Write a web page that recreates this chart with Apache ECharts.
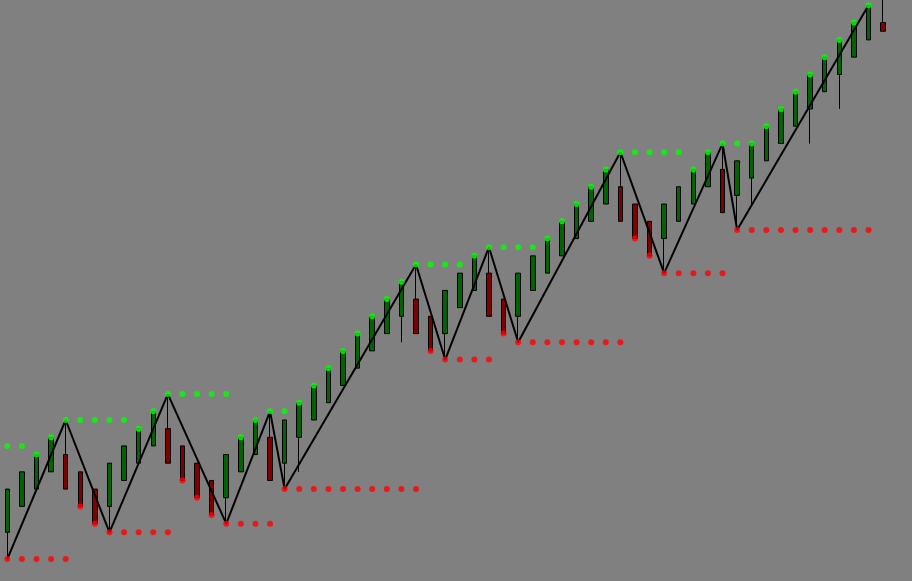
<!DOCTYPE html>
<html>
<head>
<meta charset="utf-8">
<script src="https://cdn.jsdelivr.net/npm/echarts@6/dist/echarts.min.js"></script>
<style>
html,body{margin:0;padding:0;background:#808080;}
#chart{width:912px;height:581px;}
</style>
</head>
<body>
<div id="chart"></div>
<script>
// Bar labels
var categories = ['1','2','3','4','5','6','7','8','9','10','11','12','13','14','15','16','17','18','19','20',
  '21','22','23','24','25','26','27','28','29','30','31','32','33','34','35','36','37','38','39','40',
  '41','42','43','44','45','46','47','48','49','50','51','52','53','54','55','56','57','58','59','60','61'];

// OHLC values (price units)
var opens  = [100,103,105,107,109,107,105,103,106,108,110,112,110,108,106,104,107,109,111,108,
              111,113,115,117,119,121,123,125,127,125,123,126,128,130,127,125,128,130,132,134,
              136,138,140,138,136,134,136,138,140,142,139,141,143,145,147,149,151,153,155,157,159];
var closes = [105,107,109,111,105,103,101,108,110,112,114,108,106,104,102,109,111,113,106,113,
              115,117,119,121,123,125,127,129,123,121,128,130,132,125,123,130,132,134,136,138,
              140,142,136,134,132,138,140,142,144,137,143,145,147,149,151,153,155,157,159,161,158];
var lows   = [96.9,103,105,107,105,103,101,100,106,108,110,108,106,104,102,101,107,109,106,105,
              107,113,115,117,119,121,123,122,123,121,120,126,128,125,123,122,128,130,132,134,
              136,138,136,134,132,130,136,138,140,137,135,138,143,145,147,145,151,149,155,157,158];
var highs  = [105,107,109,111,113,107,105,108,110,112,114,116,110,108,106,109,111,113,114,113,
              115,117,119,121,123,125,127,129,131,125,128,130,132,133,127,130,132,134,136,138,
              140,142,144,138,136,138,140,142,144,145,143,145,147,149,151,153,155,157,159,161,164];

// Upper (green) and lower (red) dot levels per bar
var upperDots = [110,110,109,111,113,113,113,113,113,112,114,116,116,116,116,116,111,113,114,114,
                 115,117,119,121,123,125,127,129,131,131,131,131,132,133,133,133,133,134,136,138,
                 140,142,144,144,144,144,144,142,144,145,145,145,147,149,151,153,155,157,159,161,null];
var lowerDots = [96.9,96.9,96.9,96.9,96.9,103,101,100,100,100,100,100,106,104,102,101,101,101,101,105,
                 105,105,105,105,105,105,105,105,105,121,120,120,120,120,123,122,122,122,122,122,
                 122,122,122,134,132,130,130,130,130,130,135,135,135,135,135,135,135,135,135,135,null];

// ZigZag pivots: bar index and price
var zigIndex = [0,4,7,11,15,18,19,28,30,33,35,42,45,49,50,59];
var zigPrice = [96.9,113,100,116,101,114,105,131,120,133,122,144,130,145,135,161];

var ohlc = categories.map(function(c,i){ return [opens[i], closes[i], lows[i], highs[i]]; });
var zig = categories.map(function(){ return null; });
zigIndex.forEach(function(idx,j){ zig[idx] = zigPrice[j]; });

var chart = echarts.init(document.getElementById('chart'), null, {renderer:'canvas'});
chart.setOption({
  animation: false,
  backgroundColor: '#808080',
  grid: {left: -2, top: 0, width: 892.4, height: 581, containLabel: false},
  xAxis: {type: 'category', data: categories, show: false, boundaryGap: true},
  yAxis: {type: 'value', min: 94.363, max: 161.616, show: false, splitLine: {show: false}, scale: true},
  series: [
    {
      type: 'candlestick',
      data: ohlc,
      barWidth: 5,
      z: 2,
      itemStyle: {
        color: '#006400',
        color0: '#800000',
        borderColor: '#000000',
        borderColor0: '#000000',
        borderWidth: 1
      }
    },
    {
      type: 'line',
      data: zig,
      connectNulls: true,
      showSymbol: false,
      symbol: 'none',
      z: 3,
      lineStyle: {color: '#000000', width: 2}
    },
    {
      type: 'scatter',
      data: upperDots,
      symbol: 'circle',
      symbolSize: 6,
      z: 4,
      itemStyle: {color: '#00ff00'}
    },
    {
      type: 'scatter',
      data: lowerDots,
      symbol: 'circle',
      symbolSize: 6,
      z: 4,
      itemStyle: {color: '#ff0000'}
    }
  ]
});
</script>
</body>
</html>
